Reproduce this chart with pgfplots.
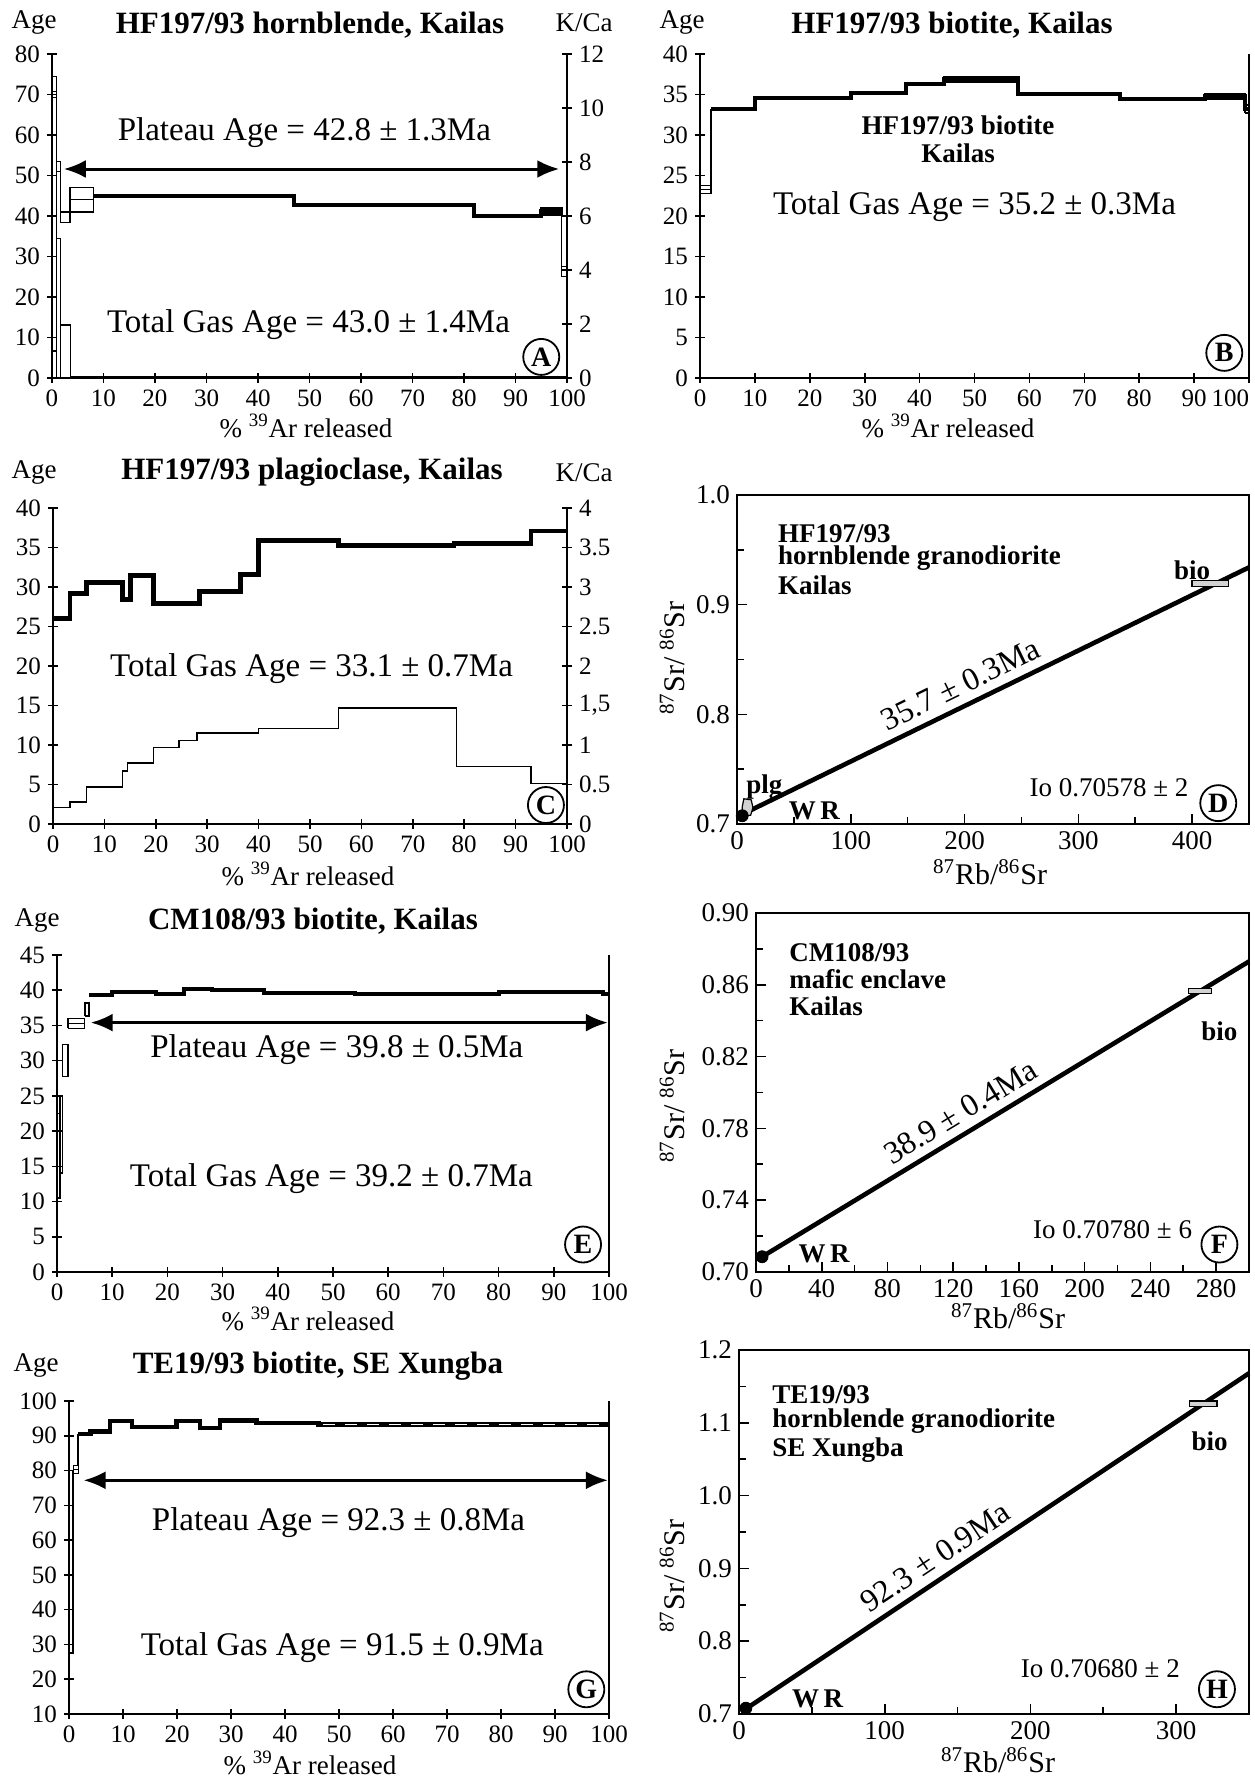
\documentclass[border=0pt]{standalone}
\usepackage{fontspec}
\setmainfont{Liberation Serif}
\usepackage{pgfplots}
\pgfplotsset{compat=1.18}
\usetikzlibrary{arrows.meta}

\newcommand\fTick{\fontsize{12.5}{13}\selectfont}
\newcommand\fLab{\fontsize{13.5}{14}\selectfont}
\newcommand\fTitle{\fontsize{15.5}{16}\selectfont\bfseries}
\newcommand\fBig{\fontsize{16.5}{17}\selectfont}
\newcommand\fRot{\fontsize{16}{17}\selectfont}
\newcommand\fNote{\fontsize{13.5}{14}\selectfont}
\newcommand\fIso{\fontsize{15}{16}\selectfont}
\newcommand\Ar{\% \textsuperscript{39}Ar released}
\newcommand\SrSr{\textsuperscript{87}Sr/ \textsuperscript{86}Sr}
\newcommand\RbSr{\textsuperscript{87}Rb/\textsuperscript{86}Sr}

\pgfplotsset{
  base/.style={scale only axis, clip=false, tick align=inside,
    axis line style={line width=1pt}, tick style={black, line width=0.8pt},
    major tick length=5pt, minor tick length=3.5pt,
    tick label style={font=\fTick},
    /pgf/number format/assume math mode=true},
  spec/.style={base, axis x line=bottom, axis y line=left, axis line style={-},
    xmin=0, xmax=100, xtick={0,10,...,100}},
  kca/.style={base, axis x line=none, axis y line=right, axis line style={-},
    xmin=0, xmax=100},
  iso/.style={base, xtick pos=bottom, ytick pos=left,
    minor x tick num=1, minor y tick num=1, tick label style={font=\fontsize{13.5}{14}\selectfont}},
  stepline/.style={const plot, line width=2pt},
  ebox/.style={line width=0.6pt},
  isoline/.style={line width=2.3pt},
  grey/.style={fill=gray!35, draw=black, line width=0.6pt},
}
\tikzset{
  lab/.style={circle, draw, line width=0.9pt, minimum size=18pt, inner sep=0pt,
    font=\fontsize{14}{14}\selectfont\bfseries},
  dbl/.style={{Latex[length=11pt,width=9pt]}-{Latex[length=11pt,width=9pt]}, line width=1.5pt},
}

\begin{document}
\begin{tikzpicture}
\useasboundingbox (0,0) rectangle (627pt,889pt);

% ---------- A: hornblende ----------
\begin{axis}[spec, at={(26pt,700pt)}, anchor=south west, width=257.5pt, height=162pt,
  ymin=0, ymax=80, ytick={0,10,...,80}]
\addplot[ebox] coordinates {(0,6.5)(0.8,6.5)(0.8,74.5)(0,74.5)(0,6.5)};
\addplot[ebox] coordinates {(0,69.2)(0.8,69.2)(0.8,70.8)(0,70.8)};
\addplot[ebox] coordinates {(0.8,51)(1.7,51)(1.7,53.5)(0.8,53.5)(0.8,51)};
\addplot[ebox] coordinates {(1.7,51)(1.7,38.4)(3.5,38.4)(3.5,41)(1.7,41)};
\addplot[ebox] coordinates {(3.5,41)(8,41)(8,47)(3.5,47)(3.5,41)};
\addplot[ebox] coordinates {(3.5,44)(8,44)};
\addplot[stepline] coordinates {(8,44.9)(47,42.6)(82,40.0)(95,41.2)(99,41.2)};
\addplot[ebox, line width=1.2pt] coordinates {(95,40.4)(99,40.4)(99,41.9)(95,41.9)(95,40.4)};
\addplot[ebox] coordinates {(99,40.4)(99,27.5)(100,27.5)(100,25)(99,25)(99,27.5)};
\draw[dbl] (axis cs:2.3,51.6) -- (axis cs:98.5,51.6);
\node[font=\fBig] at (axis cs:49,60.5) {Plateau Age = 42.8 ± 1.3Ma};
\node[font=\fBig] at (axis cs:49.8,13.2) {Total Gas Age = 43.0 ± 1.4Ma};
\node[lab] at (axis cs:95,5.2) {A};
\end{axis}
\begin{axis}[kca, at={(26pt,700pt)}, anchor=south west, width=257.5pt, height=162pt,
  ymin=0, ymax=12, ytick={0,2,...,12}]
\addplot[const plot, ebox] coordinates {(0,0)(0,1.0)(0.8,5.17)(1.7,1.96)(3.6,0.06)(100,0.06)};
\addplot[ebox] coordinates {(0.8,0)(0.8,1.0)};
\addplot[ebox] coordinates {(1.7,0)(1.7,1.96)};
\end{axis}

% ---------- B: biotite ----------
\begin{axis}[spec, at={(350pt,700pt)}, anchor=south west, width=274.5pt, height=162pt,
  ymin=0, ymax=40, ytick={0,5,...,40},
  xticklabels={0,10,20,30,40,50,60,70,80,90,\llap{100}}]
\addplot[ebox] coordinates {(0,22.8)(2,22.8)(2,23.8)(0,23.8)(0,22.8)};
\addplot[ebox] coordinates {(0,23.3)(2,23.3)};
\addplot[ebox, line width=1pt] coordinates {(2,23.8)(2,33.2)};
\addplot[stepline] coordinates {(2,33.2)(10,34.6)(27.5,35.2)(37.5,36.3)(44.5,36.85)(58,35.0)(76.5,34.5)(92,34.8)(99.3,33.2)(100,33.2)};
\addplot[ebox, line width=1.2pt] coordinates {(44.5,36.6)(58,36.6)(58,37.1)(44.5,37.1)(44.5,36.6)};
\addplot[ebox, line width=1pt] coordinates {(92,34.5)(99.3,34.5)(99.3,35.1)(92,35.1)(92,34.5)};
\addplot[ebox, line width=1pt] coordinates {(99.3,32.7)(100,32.7)(100,33.7)(99.3,33.7)(99.3,32.7)};
\addplot[line width=1pt] coordinates {(100,0)(100,40)};
\node[font=\fNote\bfseries] at (axis cs:47,31.2) {HF197/93 biotite};
\node[font=\fNote\bfseries] at (axis cs:47,27.8) {Kailas};
\node[font=\fBig] at (axis cs:50,21.2) {Total Gas Age = 35.2 ± 0.3Ma};
\node[lab] at (axis cs:95.5,3.1) {B};
\end{axis}

% ---------- C: plagioclase ----------
\begin{axis}[spec, at={(26.5pt,477pt)}, anchor=south west, width=257pt, height=158pt,
  ymin=0, ymax=40, ytick={0,5,...,40}]
\addplot[stepline, line width=2.4pt] coordinates {(0,26.0)(3.3,29.2)(6.5,30.6)(13.5,28.4)(15,31.5)(19.5,27.9)(28.5,29.4)(36.5,31.6)(40,35.9)(55.5,35.3)(78,35.5)(93,37.1)(100,37.1)};
\node[font=\fBig] at (axis cs:50.3,19.7) {Total Gas Age = 33.1 ± 0.7Ma};
\node[lab] at (axis cs:95.9,2.4) {C};
\end{axis}
\begin{axis}[kca, at={(26.5pt,477pt)}, anchor=south west, width=257pt, height=158pt,
  ymin=0, ymax=4, ytick={0,0.5,...,4}, yticklabels={0,0.5,1,{1,5},2,2.5,3,3.5,4}]
\addplot[const plot, ebox, line width=0.7pt] coordinates {(0,0.205)(3.3,0.28)(6.5,0.47)(13.5,0.67)(14.5,0.77)(19.5,0.97)(24.5,1.06)(28,1.15)(40,1.21)(55.5,1.47)(78.5,0.73)(93,0.51)(100,0.51)};
\end{axis}

% ---------- D: isochron HF197/93 ----------
\begin{axis}[iso, at={(368.5pt,477pt)}, anchor=south west, width=256pt, height=164.5pt,
  xmin=0, xmax=450, ymin=0.7, ymax=1.0, xtick={0,100,...,400}, ytick={0.7,0.8,0.9,1.0},
  y tick label style={/pgf/number format/.cd, fixed, fixed zerofill, precision=1, /tikz/.cd}]
\addplot[isoline] coordinates {(4,0.7085)(450,0.934)}
  node[pos=0.45, sloped, above=4pt, inner sep=0pt, font=\fRot] {35.7 ± 0.3Ma};
\addplot[grey] coordinates {(5,0.707)(12,0.708)(14,0.715)(12.5,0.722)(6,0.723)(4.5,0.715)(5,0.707)};
\addplot[only marks, mark=*, mark size=3pt, mark options={fill=black}] coordinates {(4.6,0.7075)};
\addplot[grey, line width=0.7pt] coordinates {(400,0.9164)(432,0.9164)(432,0.922)(400,0.922)(400,0.9164)};
\node[font=\fNote\bfseries, anchor=west] at (axis cs:30,0.965) {HF197/93};
\node[font=\fNote\bfseries, anchor=west] at (axis cs:30,0.942) {hornblende granodiorite};
\node[font=\fNote\bfseries, anchor=west] at (axis cs:30,0.918) {Kailas};
\node[font=\fNote\bfseries] at (axis cs:400,0.931) {bio};
\node[font=\fNote\bfseries] at (axis cs:24,0.734) {plg};
\node[font=\fNote\bfseries] at (axis cs:68,0.712) {W\,R};
\node[font=\fNote] at (axis cs:327,0.733) {Io 0.70578 ± 2};
\node[lab] at (axis cs:423,0.719) {D};
\end{axis}

% ---------- E: CM108/93 biotite ----------
\begin{axis}[spec, at={(28.5pt,253pt)}, anchor=south west, width=276pt, height=158.5pt,
  ymin=0, ymax=45, ytick={0,5,...,45}]
\addplot[ebox, line width=0.9pt] coordinates {(0,10.5)(0.5,10.5)(0.5,22.5)(0,22.5)(0,10.5)};
\addplot[ebox, line width=0.9pt] coordinates {(0.5,14)(1,14)(1,25)(0.5,25)(0.5,14)};
\addplot[ebox] coordinates {(1,27.7)(2,27.7)(2,32.3)(1,32.3)(1,27.7)};
\addplot[ebox] coordinates {(2,34.6)(5,34.6)(5,36)(2,36)(2,34.6)};
\addplot[ebox] coordinates {(2,35.3)(5,35.3)};
\addplot[ebox, line width=1pt] coordinates {(5,36.3)(5.8,36.3)(5.8,38.2)(5,38.2)(5,36.3)};
\addplot[stepline] coordinates {(5.8,39.3)(10,39.8)(18,39.5)(23,40.2)(28,40.0)(37.5,39.6)(54,39.4)(80,39.7)(99,39.5)(100,39.5)};
\addplot[line width=1pt] coordinates {(100,0)(100,45)};
\draw[dbl] (axis cs:6.1,35.4) -- (axis cs:99.8,35.4);
\node[font=\fBig] at (axis cs:50.7,31.5) {Plateau Age = 39.8 ± 0.5Ma};
\node[font=\fBig] at (axis cs:49.7,13.2) {Total Gas Age = 39.2 ± 0.7Ma};
\node[lab] at (axis cs:95.3,3.9) {E};
\end{axis}

% ---------- F: isochron CM108/93 ----------
\begin{axis}[iso, at={(378pt,253pt)}, anchor=south west, width=246.5pt, height=179.5pt,
  xmin=0, xmax=300, ymin=0.7, ymax=0.9, xtick={0,40,...,280}, ytick={0.70,0.74,...,0.90},
  y tick label style={/pgf/number format/.cd, fixed, fixed zerofill, precision=2, /tikz/.cd}]
\addplot[isoline] coordinates {(3.7,0.7085)(300,0.873)}
  node[pos=0.43, sloped, above=4pt, inner sep=0pt, font=\fRot] {38.9 ± 0.4Ma};
\addplot[only marks, mark=*, mark size=3pt, mark options={fill=black}] coordinates {(3.7,0.7085)};
\addplot[grey, line width=0.7pt] coordinates {(263,0.855)(277,0.855)(277,0.858)(263,0.858)(263,0.855)};
\node[font=\fNote\bfseries, anchor=west] at (axis cs:16,0.878) {CM108/93};
\node[font=\fNote\bfseries, anchor=west] at (axis cs:16,0.863) {mafic enclave};
\node[font=\fNote\bfseries, anchor=west] at (axis cs:16,0.848) {Kailas};
\node[font=\fNote\bfseries] at (axis cs:282,0.834) {bio};
\node[font=\fNote\bfseries] at (axis cs:41.5,0.710) {W\,R};
\node[font=\fNote] at (axis cs:217,0.7236) {Io 0.70780 ± 6};
\node[lab] at (axis cs:282,0.7153) {F};
\end{axis}

% ---------- G: TE19/93 biotite ----------
\begin{axis}[spec, at={(34.5pt,32pt)}, anchor=south west, width=270pt, height=156.5pt,
  ymin=10, ymax=100, ytick={10,20,...,100}]
\addplot[ebox, line width=0.9pt] coordinates {(0,27.5)(0.8,27.5)(0.8,80)(0,80)(0,27.5)};
\addplot[ebox] coordinates {(0.8,79.1)(1.7,79.1)(1.7,81.5)(0.8,81.5)(0.8,79.1)};
\addplot[ebox] coordinates {(0.8,80.3)(1.7,80.3)};
\addplot[ebox, line width=1pt] coordinates {(1.7,81.5)(1.7,90.6)};
\addplot[stepline, line width=2.2pt] coordinates {(1.7,90.6)(4,91.2)(7.6,94.2)(11.7,92.6)(19.9,94.2)(24.3,92.2)(28,94.4)(34.7,93.7)(46.2,93.2)(100,93.2)};
\addplot[white, line width=0.6pt, dash pattern=on 6pt off 5pt] coordinates {(47,93.2)(99.5,93.2)};
\addplot[line width=1pt] coordinates {(100,10)(100,100)};
\draw[dbl] (axis cs:2.7,77.2) -- (axis cs:99.8,77.2);
\node[font=\fBig] at (axis cs:49.9,65) {Plateau Age = 92.3 ± 0.8Ma};
\node[font=\fBig] at (axis cs:50.6,29) {Total Gas Age = 91.5 ± 0.9Ma};
\node[lab] at (axis cs:95.8,17.1) {G};
\end{axis}

% ---------- H: isochron TE19/93 ----------
\begin{axis}[iso, at={(369.5pt,32pt)}, anchor=south west, width=255pt, height=182pt,
  xmin=0, xmax=350, ymin=0.7, ymax=1.2, xtick={0,100,200,300}, ytick={0.7,0.8,...,1.2},
  y tick label style={/pgf/number format/.cd, fixed, fixed zerofill, precision=1, /tikz/.cd}]
\addplot[isoline] coordinates {(4.7,0.707)(350,1.168)}
  node[pos=0.40, sloped, above=4pt, inner sep=0pt, font=\fRot] {92.3 ± 0.9Ma};
\addplot[only marks, mark=*, mark size=3pt, mark options={fill=black}] coordinates {(4.7,0.708)};
\addplot[grey, line width=0.7pt] coordinates {(309,1.122)(328,1.122)(328,1.130)(309,1.130)(309,1.122)};
\node[font=\fNote\bfseries, anchor=west] at (axis cs:18,1.139) {TE19/93};
\node[font=\fNote\bfseries, anchor=west] at (axis cs:18,1.102) {hornblende granodiorite};
\node[font=\fNote\bfseries, anchor=west] at (axis cs:18,1.063) {SE Xungba};
\node[font=\fNote\bfseries] at (axis cs:323,1.075) {bio};
\node[font=\fNote\bfseries] at (axis cs:54,0.721) {W\,R};
\node[font=\fNote] at (axis cs:248,0.762) {Io 0.70680 ± 2};
\node[lab] at (axis cs:328,0.734) {H};
\end{axis}

% ---------- titles and axis labels ----------
\node[font=\fLab] at (17pt,877.5pt) {Age};
\node[font=\fTitle] at (155pt,876.5pt) {HF197/93 hornblende, Kailas};
\node[font=\fLab] at (292pt,877.5pt) {K/Ca};
\node[font=\fLab] at (153pt,676pt) {\Ar};

\node[font=\fLab] at (341pt,877.5pt) {Age};
\node[font=\fTitle] at (476pt,876.5pt) {HF197/93 biotite, Kailas};
\node[font=\fLab] at (474pt,676pt) {\Ar};

\node[font=\fLab] at (17pt,652.5pt) {Age};
\node[font=\fTitle] at (156pt,653pt) {HF197/93 plagioclase, Kailas};
\node[font=\fLab] at (292pt,652.5pt) {K/Ca};
\node[font=\fLab] at (154pt,452pt) {\Ar};

\node[font=\fIso, rotate=90] at (336pt,560pt) {\SrSr};
\node[font=\fIso] at (495pt,453pt) {\RbSr};

\node[font=\fLab] at (18.5pt,428.5pt) {Age};
\node[font=\fTitle] at (156.5pt,428.5pt) {CM108/93 biotite, Kailas};
\node[font=\fLab] at (154pt,229.5pt) {\Ar};

\node[font=\fIso, rotate=90] at (336pt,336pt) {\SrSr};
\node[font=\fIso] at (504pt,231pt) {\RbSr};

\node[font=\fLab] at (18pt,206pt) {Age};
\node[font=\fTitle] at (159pt,206pt) {TE19/93 biotite, SE Xungba};
\node[font=\fLab] at (155pt,7.5pt) {\Ar};

\node[font=\fIso, rotate=90] at (336pt,101pt) {\SrSr};
\node[font=\fIso] at (499pt,9pt) {\RbSr};
\end{tikzpicture}
\end{document}
